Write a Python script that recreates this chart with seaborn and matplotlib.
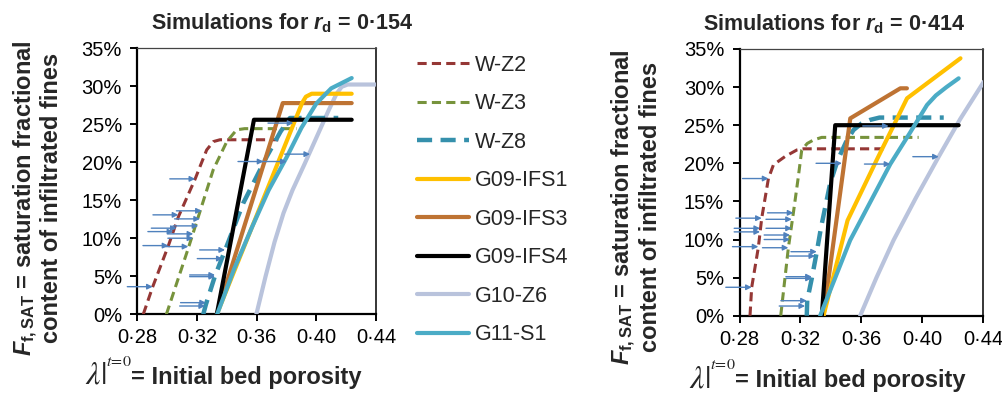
import matplotlib
matplotlib.use("Agg")
import matplotlib.pyplot as plt
from matplotlib.lines import Line2D
from matplotlib.ticker import FuncFormatter
import seaborn as sns
import pandas as pd

# ---------------- data ----------------
series_names = ["W-Z2", "W-Z3", "W-Z8", "G09-IFS1", "G09-IFS3", "G09-IFS4", "G10-Z6", "G11-S1"]

# left panel : r_d = 0.154
L_wz2_x = [0.284, 0.2903, 0.3008, 0.3075, 0.3188, 0.322, 0.3265, 0.331, 0.3354, 0.3745]
L_wz2_y = [0.0, 0.036, 0.090, 0.128, 0.178, 0.194, 0.216, 0.227, 0.2294, 0.2294]
L_wz3_x = [0.2995, 0.3142, 0.322, 0.3309, 0.340, 0.3466, 0.352, 0.387]
L_wz3_y = [0.0, 0.087, 0.135, 0.190, 0.227, 0.2425, 0.244, 0.244]
L_wz8_x = [0.3242, 0.326, 0.332, 0.337, 0.339, 0.351, 0.3667, 0.376, 0.3823, 0.4147]
L_wz8_y = [0.0, 0.013, 0.050, 0.075, 0.085, 0.146, 0.207, 0.240, 0.258, 0.258]
L_ifs1_x = [0.3333, 0.3905, 0.393, 0.3969, 0.4237]
L_ifs1_y = [0.0, 0.278, 0.286, 0.2899, 0.2899]
L_ifs3_x = [0.3333, 0.3775, 0.4237]
L_ifs3_y = [0.0, 0.2776, 0.2776]
L_ifs4_x = [0.3333, 0.3582, 0.4237]
L_ifs4_y = [0.0, 0.2557, 0.2557]
L_z6_x = [0.3598, 0.366, 0.372, 0.378, 0.384, 0.392, 0.400, 0.408, 0.4136, 0.417, 0.421, 0.442]
L_z6_y = [0.0, 0.05, 0.095, 0.133, 0.163, 0.197, 0.232, 0.267, 0.290, 0.299, 0.302, 0.302]
L_s1_x = [0.3335, 0.345, 0.357, 0.368, 0.380, 0.390, 0.400, 0.410, 0.4237]
L_s1_y = [0.0, 0.06, 0.115, 0.163, 0.206, 0.245, 0.277, 0.297, 0.3105]

# right panel : r_d = 0.414
R_wz2_x = [0.2869, 0.288, 0.2924, 0.2946, 0.299, 0.3023, 0.310, 0.3177, 0.322, 0.378]
R_wz2_y = [0.0, 0.037, 0.09, 0.128, 0.18, 0.198, 0.209, 0.2175, 0.219, 0.219]
R_wz3_x = [0.3071, 0.3121, 0.3154, 0.3185, 0.3209, 0.3245, 0.3286, 0.334, 0.3977]
R_wz3_y = [0.0, 0.089, 0.135, 0.18, 0.2175, 0.226, 0.2306, 0.234, 0.234]
R_wz8_x = [0.3242, 0.3245, 0.3275, 0.3308, 0.3335, 0.3396, 0.3445, 0.350, 0.3549, 0.360, 0.3659, 0.372, 0.4142]
R_wz8_y = [0.0, 0.02, 0.049, 0.084, 0.115, 0.174, 0.204, 0.228, 0.2437, 0.252, 0.257, 0.26, 0.26]
R_ifs1_x = [0.3352, 0.351, 0.3703, 0.3901, 0.4252]
R_ifs1_y = [0.0, 0.125, 0.205, 0.2853, 0.3378]
R_ifs3_x = [0.3352, 0.3528, 0.3857, 0.390]
R_ifs3_y = [0.0, 0.259, 0.2984, 0.2984]
R_ifs4_x = [0.3341, 0.3429, 0.424]
R_ifs4_y = [0.0, 0.25, 0.25]
R_z6_x = [0.3593, 0.370, 0.3813, 0.396, 0.4109, 0.425, 0.4405]
R_z6_y = [0.0, 0.05, 0.0993, 0.155, 0.2087, 0.258, 0.307]
R_s1_x = [0.333, 0.3527, 0.3791, 0.392, 0.4032, 0.409, 0.416, 0.424]
R_s1_y = [0.0, 0.099, 0.199, 0.24, 0.2765, 0.289, 0.30, 0.3115]

# arrows (head position x, level y)
L_arrow_x = [0.2903, 0.3188, 0.3232, 0.3075, 0.322, 0.3209, 0.3064, 0.3041, 0.3175, 0.3175, 0.3008,
             0.3142, 0.3388, 0.3372, 0.3321, 0.3321, 0.3260, 0.3254, 0.3645, 0.3801, 0.3846, 0.3958]
L_arrow_y = [0.0363, 0.178, 0.136, 0.1307, 0.1254, 0.1162, 0.1132, 0.1087, 0.1057, 0.100, 0.0903,
             0.0890, 0.0846, 0.0732, 0.0517, 0.0495, 0.0153, 0.0109, 0.2008, 0.2008, 0.2513, 0.2105]
R_arrow_x = [0.2990, 0.3473, 0.3154, 0.2946, 0.3144, 0.2935, 0.3144, 0.2935, 0.3132, 0.3132, 0.2924,
             0.3121, 0.3308, 0.3297, 0.3275, 0.3275, 0.2880, 0.3242, 0.3231, 0.378, 0.3791, 0.4109]
R_arrow_y = [0.180, 0.200, 0.135, 0.128, 0.1265, 0.1147, 0.1147, 0.110, 0.1059, 0.100, 0.0906,
             0.0892, 0.084, 0.0783, 0.0512, 0.049, 0.0373, 0.0197, 0.0127, 0.249, 0.199, 0.2087]

x_ticks = [0.28, 0.32, 0.36, 0.40, 0.44]
y_ticks = [0.0, 0.05, 0.10, 0.15, 0.20, 0.25, 0.30, 0.35]
panel_titles = ["0·154", "0·414"]

left_data = {
    "W-Z2": (L_wz2_x, L_wz2_y), "W-Z3": (L_wz3_x, L_wz3_y), "W-Z8": (L_wz8_x, L_wz8_y),
    "G09-IFS1": (L_ifs1_x, L_ifs1_y), "G09-IFS3": (L_ifs3_x, L_ifs3_y), "G09-IFS4": (L_ifs4_x, L_ifs4_y),
    "G10-Z6": (L_z6_x, L_z6_y), "G11-S1": (L_s1_x, L_s1_y),
}
right_data = {
    "W-Z2": (R_wz2_x, R_wz2_y), "W-Z3": (R_wz3_x, R_wz3_y), "W-Z8": (R_wz8_x, R_wz8_y),
    "G09-IFS1": (R_ifs1_x, R_ifs1_y), "G09-IFS3": (R_ifs3_x, R_ifs3_y), "G09-IFS4": (R_ifs4_x, R_ifs4_y),
    "G10-Z6": (R_z6_x, R_z6_y), "G11-S1": (R_s1_x, R_s1_y),
}

# ---------------- style ----------------
styles = {
    "W-Z2": dict(color="#953735", lw=2.2, dashes=(3.0, 1.7)),
    "W-Z3": dict(color="#77933C", lw=2.2, dashes=(3.0, 1.7)),
    "W-Z8": dict(color="#3590AC", lw=3.2, dashes=(3.4, 1.9)),
    "G09-IFS1": dict(color="#FFC000", lw=3.0, dashes=None),
    "G09-IFS3": dict(color="#BE7333", lw=3.0, dashes=None),
    "G09-IFS4": dict(color="#000000", lw=3.0, dashes=None),
    "G10-Z6": dict(color="#B9C3DC", lw=3.0, dashes=None),
    "G11-S1": dict(color="#4BACC6", lw=3.0, dashes=None),
}
draw_order = ["G10-Z6", "W-Z2", "W-Z3", "W-Z8", "G09-IFS3", "G09-IFS1", "G09-IFS4", "G11-S1"]
arrow_color = "#4F81BD"
arrow_len = 0.017

sns.set_theme(style="white")
plt.rcParams["font.family"] = ["Liberation Sans", "DejaVu Sans"]
plt.rcParams["mathtext.it"] = "Liberation Sans:italic:bold"
plt.rcParams["mathtext.rm"] = "Liberation Sans:bold"
plt.rcParams["mathtext.bf"] = "Liberation Sans:bold"
plt.rcParams["mathtext.sf"] = "Liberation Sans:bold"

W, H = 1003, 394
fig = plt.figure(figsize=(W / 100, H / 100), dpi=100)
fig.patch.set_facecolor("white")


def fx(px):
    return px / W


def fy(py):
    return 1 - py / H


axL = fig.add_axes([fx(137.3), fy(314.3), (376 - 137.3) / W, (314.3 - 48) / H])
axR = fig.add_axes([fx(739.5), fy(315.7), (983 - 739.5) / W, (315.7 - 49) / H])

for ax, data, ax_x, ax_y in [(axL, left_data, L_arrow_x, L_arrow_y), (axR, right_data, R_arrow_x, R_arrow_y)]:
    for name in draw_order:
        xs, ys = data[name]
        st = styles[name]
        df = pd.DataFrame({"x": xs, "y": ys})
        sns.lineplot(data=df, x="x", y="y", ax=ax, color=st["color"], lw=st["lw"],
                     sort=False, estimator=None, solid_capstyle="round", dash_capstyle="butt")
        line = ax.lines[-1]
        if st["dashes"] is not None:
            line.set_dashes(st["dashes"])
        line.set_zorder(3)
    for hx, hy in zip(ax_x, ax_y):
        ax.annotate("", xy=(hx, hy), xytext=(hx - arrow_len, hy),
                    arrowprops=dict(arrowstyle="-|>", color=arrow_color, lw=1.0,
                                    mutation_scale=8, shrinkA=0, shrinkB=0),
                    annotation_clip=False, zorder=5)
    leg = ax.get_legend()
    if leg is not None:
        leg.remove()

    ax.set_xlim(0.28, 0.44)
    ax.set_ylim(0, 0.35)
    ax.set_xticks(x_ticks)
    ax.set_yticks(y_ticks)
    ax.xaxis.set_major_formatter(FuncFormatter(lambda v, p: f"{v:.2f}".replace(".", "\u00b7")))
    ax.yaxis.set_major_formatter(FuncFormatter(lambda v, p: f"{round(v * 100)}%"))
    ax.tick_params(axis="both", which="major", direction="out", length=5, width=1.4,
                   colors="black", labelsize=14.5, left=True, bottom=True)
    ax.tick_params(axis="y", pad=6)
    ax.tick_params(axis="x", pad=5)
    ax.set_xlabel("")
    ax.set_ylabel("")
    ax.grid(False)
    for side in ["left", "bottom"]:
        ax.spines[side].set_linewidth(1.6)
        ax.spines[side].set_color("black")
    ax.spines["right"].set_linewidth(1.1)
    ax.spines["right"].set_color("black")
    ax.spines["top"].set_linewidth(0.9)
    ax.spines["top"].set_color("#444444")
    for sp in ax.spines.values():
        sp.set_visible(True)

# titles
fig.text(fx(282.5), fy(29), "Simulations for $r_{\\mathrm{d}}$ = " + panel_titles[0], ha="center",
         va="baseline", fontsize=15.5, fontweight="bold", math_fontfamily="custom")
fig.text(fx(834), fy(30), "Simulations for $r_{\\mathrm{d}}$ = " + panel_titles[1], ha="center",
         va="baseline", fontsize=15.5, fontweight="bold", math_fontfamily="custom")

# y labels
ylab = "$F_{\\mathrm{f,SAT}}$ = saturation fractional\ncontent of infiltrated fines"
fig.text(fx(37.5), fy(198), ylab, rotation=90, ha="center", va="center", fontsize=17,
         fontweight="bold", multialignment="center", math_fontfamily="custom", linespacing=1.05)
fig.text(fx(636), fy(207), ylab, rotation=90, ha="center", va="center", fontsize=17,
         fontweight="bold", multialignment="center", math_fontfamily="custom", linespacing=1.05)

# x labels
for x_eq, base in [(131, 384), (735, 387)]:
    fig.text(fx(x_eq - 25), fy(base), "$\\lambda|$", ha="right", va="baseline", fontsize=23,
             math_fontfamily="stix")
    fig.text(fx(x_eq - 25), fy(base - 18), "$t\\!=\\!0$", ha="left", va="baseline", fontsize=11.5,
             math_fontfamily="stix")
    fig.text(fx(x_eq), fy(base), "= Initial bed porosity", ha="left", va="baseline",
             fontsize=17, fontweight="bold")

# legend
handles = []
for name in series_names:
    st = styles[name]
    h = Line2D([0], [0], color=st["color"], lw=st["lw"])
    if st["dashes"] is not None:
        h.set_dashes(st["dashes"])
    handles.append(h)
fig.legend(handles, series_names, loc="upper left", bbox_to_anchor=(fx(416.7), fy(55)),
           frameon=False, fontsize=15.5, handlelength=2.45, handletextpad=0.25,
           labelspacing=0.81, borderpad=0, borderaxespad=0)

fig.savefig("out.png", dpi=100, facecolor="white")
